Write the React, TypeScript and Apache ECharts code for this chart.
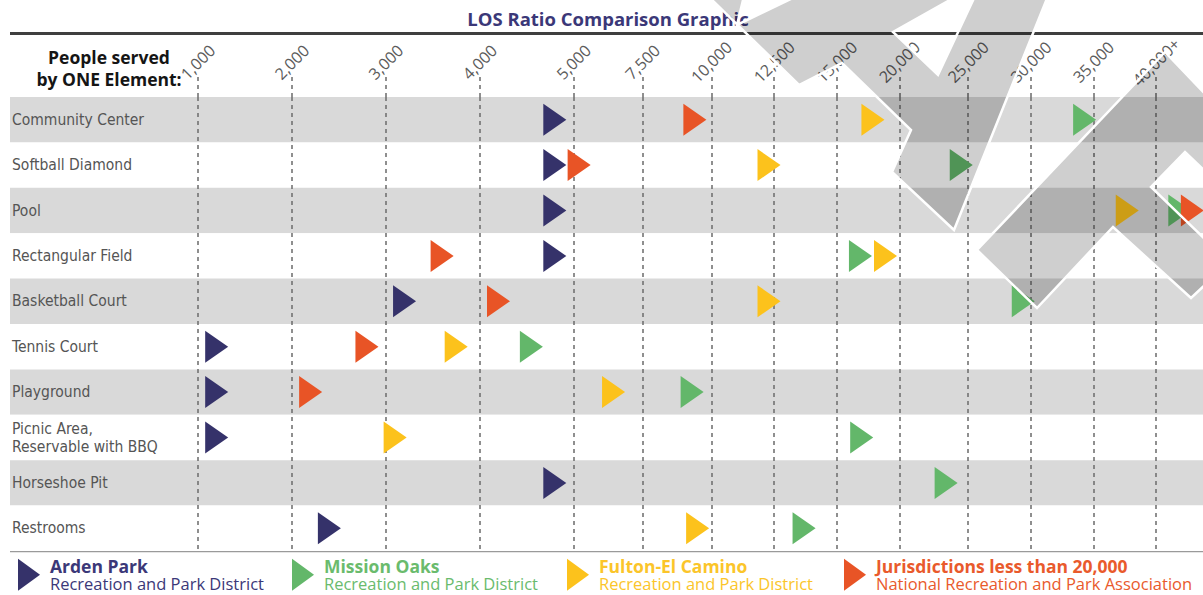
import React, { useEffect, useRef } from 'react';
import * as echarts from 'echarts';

// ---------- data ----------
const categories = [
  'Community Center',
  'Softball Diamond',
  'Pool',
  'Rectangular Field',
  'Basketball Court',
  'Tennis Court',
  'Playground',
  'Picnic Area,\nReservable with BBQ',
  'Horseshoe Pit',
  'Restrooms',
];

// People served by ONE element (estimated from the graphic)
const ardenPark = [4800, 4800, 4800, 4800, 3200, 1200, 1200, 1200, 4800, 2400];
const missionOaks = [34300, 24500, 41900, 16900, 29400, 4550, 9300, 17000, 23400, 13700];
const fultonElCamino = [17900, 12300, 37700, 18900, 12300, 3750, 6450, 3100, null, 9500];
const jurisdictions = [9400, 5200, 42900, 3600, 4200, 2800, 2200, null, null, null];

const tickValues = [1000, 2000, 3000, 4000, 5000, 7500, 10000, 12500, 15000, 20000, 25000, 30000, 35000, 40000];
const tickLabels = ['1,000', '2,000', '3,000', '4,000', '5,000', '7,500', '10,000', '12,500', '15,000', '20,000', '25,000', '30,000', '35,000', '40,000+'];
// relative width of each interval between ticks on the (non-linear) axis
const tickWeights = [1.5, 1.5, 1.5, 1.5, 1.1, 1.1, 1, 1, 1, 1.1, 1, 1, 1];

const seriesDefs = [
  { name: 'Arden Park', sub: 'Recreation and Park District', values: ardenPark, color: '#35326a', text: '#3b3878' },
  { name: 'Mission Oaks', sub: 'Recreation and Park District', values: missionOaks, color: '#63b76a', text: '#6abb6d' },
  { name: 'Fulton-El Camino', sub: 'Recreation and Park District', values: fultonElCamino, color: '#fcc21c', text: '#fbc52a' },
  { name: 'Jurisdictions less than 20,000', sub: 'National Recreation and Park Association', values: jurisdictions, color: '#e85426', text: '#e95a2c' },
];

// piecewise-linear scale: people served -> axis units
const tickUnits: number[] = [0];
tickWeights.forEach((w, i) => tickUnits.push(tickUnits[i] + w));
function toAxis(v: number): number {
  const n = tickValues.length;
  if (v <= tickValues[0]) {
    return ((v - tickValues[0]) / (tickValues[1] - tickValues[0])) * tickWeights[0];
  }
  for (let i = 0; i < n - 1; i++) {
    if (v <= tickValues[i + 1]) {
      return tickUnits[i] + ((v - tickValues[i]) / (tickValues[i + 1] - tickValues[i])) * tickWeights[i];
    }
  }
  const last = n - 1;
  return tickUnits[last] + ((v - tickValues[last]) / (tickValues[last] - tickValues[last - 1])) * tickWeights[last - 1];
}

const overlayShapes: number[][][] = [
  [[708, -4], [744, -4], [737, 25], [797, -4], [957, -4], [893, 32], [938, 75], [975, -4], [1048, -4], [954, 230], [892, 172], [911, 130], [842, 63], [799, 85]],
  [[977, 250], [1037, 308], [1113, 227], [1191, 298], [1207, 283], [1207, 241], [1151, 187], [1185, 152], [1207, 173], [1207, 96], [1165, 52]],
];

const TRI = 'path://M0,0L22,16L0,32Z';
const CONDENSED = '"DejaVu Sans Condensed", "Liberation Sans Narrow", "Roboto", sans-serif';

export default function App() {
  const ref = useRef<HTMLDivElement>(null);
  useEffect(() => {
    document.body.style.margin = '0';
    const chart = echarts.init(ref.current!, null, { renderer: 'svg' });
    const dash = { type: [4, 4] as any, color: '#6b6b6b', width: 1.5 };
    const option: any = {
      animation: false,
      backgroundColor: '#ffffff',
      grid: { left: 10, right: 0, top: 97, height: 454, containLabel: false },
      xAxis: {
        type: 'value',
        position: 'top',
        min: -3,
        max: 16.05,
        axisLine: { show: false },
        axisTick: { show: true, customValues: tickUnits, length: 20, lineStyle: dash },
        axisLabel: {
          customValues: tickUnits,
          rotate: -45,
          margin: 35,
          align: 'center',
          verticalAlign: 'middle',
          color: '#5c5c5c',
          fontSize: 16,
          fontFamily: '"Open Sans"',
          formatter: (v: number) => {
            const i = tickUnits.findIndex((u) => Math.abs(u - v) < 1e-6);
            return i >= 0 ? tickLabels[i] : '';
          },
        },
        splitLine: { show: true, lineStyle: dash },
      },
      yAxis: {
        type: 'category',
        data: categories,
        inverse: true,
        axisLine: { show: false },
        axisTick: { show: false },
        axisLabel: {
          inside: true,
          margin: 2,
          color: '#555555',
          fontSize: 15.5,
          lineHeight: 18,
          fontFamily: CONDENSED,
        },
        splitLine: { show: false },
        splitArea: { show: true, areaStyle: { color: ['#d9d9d9', '#ffffff'] } },
      },
      legend: seriesDefs.map((s, i) => ({
        left: [18, 292, 567, 844][i],
        top: 557,
        padding: 0,
        itemWidth: 22,
        itemHeight: 32,
        icon: TRI,
        selectedMode: false,
        data: [s.name],
        formatter: (name: string) => `{t|${name}}\n{s|${s.sub}}`,
        textStyle: {
          padding: [0, 0, 0, 5],
          rich: {
            t: { fontFamily: '"Open Sans"', fontWeight: 'bold', fontSize: 17.5, lineHeight: 17.5, color: s.text },
            s: { fontFamily: '"Open Sans"', fontSize: 16.5, lineHeight: 17.5, color: s.text },
          },
        },
      })),
      series: seriesDefs.map((s) => ({
        name: s.name,
        type: 'scatter',
        symbol: TRI,
        symbolSize: [23, 32],
        itemStyle: { color: s.color, opacity: 1 },
        data: s.values
          .map((v, i) => (v == null ? null : [toAxis(v), categories[i]]))
          .filter((d) => d !== null),
      })),
      graphic: [
        {
          type: 'text',
          x: 608,
          y: 18,
          style: {
            text: 'LOS Ratio Comparison Graphic',
            fill: '#3b3878',
            font: 'bold 18.5px "Open Sans"',
            align: 'center',
            verticalAlign: 'middle',
          },
        },
        {
          type: 'line',
          shape: { x1: 10, y1: 33.5, x2: 1203, y2: 33.5 },
          style: { stroke: '#3f3f3f', lineWidth: 3 },
        },
        {
          type: 'text',
          x: 109,
          y: 68,
          style: {
            text: 'People served\nby ONE Element:',
            align: 'center',
            verticalAlign: 'middle',
            font: 'bold 17.5px "Open Sans"',
            lineHeight: 22,
            fill: '#151515',
          },
        },
        {
          type: 'line',
          shape: { x1: 10, y1: 551.5, x2: 1203, y2: 551.5 },
          style: { stroke: '#9a9a9a', lineWidth: 1.5 },
        },
        ...overlayShapes.map((pts) => ({
          type: 'polygon',
          z: 100,
          shape: { points: pts },
          style: { fill: 'rgba(0,0,0,0.19)', stroke: '#ffffff', lineWidth: 2.5 },
        })),
      ],
    };
    chart.setOption(option);
    return () => chart.dispose();
  }, []);
  return <div ref={ref} style={{ width: 1203, height: 595 }} />;
}
